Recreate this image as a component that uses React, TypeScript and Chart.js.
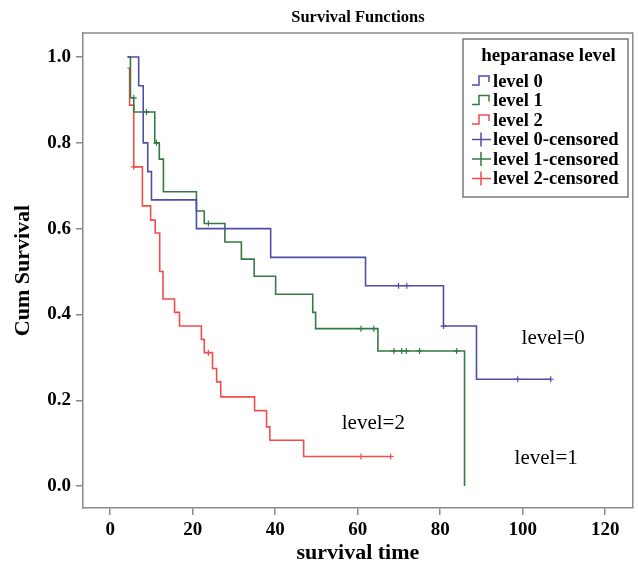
import React, { useEffect, useRef } from "react";
import { Chart, registerables } from "chart.js";

Chart.register(...registerables);

// ---- data ----
const level0Times = [4.2, 6.9, 8.0, 9.1, 10.0, 20.9, 38.9, 61.9, 80.8, 88.8, 106.8];
const level0Surv = [1.0, 0.933, 0.8, 0.733, 0.667, 0.6, 0.533, 0.467, 0.373, 0.249, 0.249];
const level0CensTimes = [69.9, 71.9, 80.8, 98.8, 106.8];
const level0CensSurv = [0.467, 0.467, 0.373, 0.249, 0.249];

const level1Times = [4.2, 4.9, 5.7, 10.8, 11.9, 12.9, 20.9, 22.8, 27.8, 31.8, 34.9, 40.1, 49.1, 49.8, 64.9, 85.9];
const level1Surv = [1.0, 0.905, 0.872, 0.8, 0.762, 0.686, 0.641, 0.612, 0.569, 0.529, 0.489, 0.447, 0.405, 0.367, 0.315, 0.0];
const level1CensTimes = [5.7, 8.8, 11.2, 23.8, 60.8, 63.9, 68.8, 70.7, 71.8, 75.0, 84.0];
const level1CensSurv = [0.905, 0.872, 0.8, 0.612, 0.367, 0.367, 0.315, 0.315, 0.315, 0.315, 0.315];

const level2Times = [4.2, 4.7, 5.7, 7.8, 9.8, 10.9, 12.0, 12.8, 15.6, 16.8, 22.1, 22.8, 24.8, 25.8, 26.8, 35.0, 37.9, 38.7, 46.9, 68.0];
const level2Surv = [0.974, 0.888, 0.744, 0.653, 0.62, 0.59, 0.5, 0.436, 0.405, 0.373, 0.342, 0.311, 0.274, 0.243, 0.208, 0.176, 0.138, 0.107, 0.069, 0.069];
const level2CensTimes = [5.7, 23.8, 60.8, 68.0];
const level2CensSurv = [0.744, 0.311, 0.069, 0.069];

const xTicks = [0, 20, 40, 60, 80, 100, 120];
const yTicks = [0, 0.2, 0.4, 0.6, 0.8, 1.0];

const legendTitle = "heparanase level";
const legendLabels = ["level 0", "level 1", "level 2", "level 0-censored", "level 1-censored", "level 2-censored"];

const annotTexts = ["level=0", "level=2", "level=1"];
const annotX = [107.4, 63.8, 105.7];
const annotY = [0.345, 0.147, 0.065];

const BLUE = "rgb(78,78,168)";
const GREEN = "rgb(52,122,68)";
const RED = "rgb(242,76,76)";
const colors = [BLUE, GREEN, RED];

const SERIF = "'Liberation Serif', 'DejaVu Serif', serif";

function pts(xs: number[], ys: number[]) {
  return xs.map((x, i) => ({ x, y: ys[i] }));
}

const decorPlugin = {
  id: "decor",
  afterDraw(chart: any) {
    const { ctx, chartArea, scales } = chart;
    const { left, right, top, bottom } = chartArea;
    ctx.save();
    // box top and right
    ctx.strokeStyle = "#8a8a8a";
    ctx.lineWidth = 1.5;
    ctx.beginPath();
    ctx.moveTo(left, top);
    ctx.lineTo(right, top);
    ctx.lineTo(right, bottom);
    ctx.stroke();

    // title
    ctx.fillStyle = "#000";
    ctx.font = `bold 16.5px ${SERIF}`;
    ctx.textAlign = "center";
    ctx.textBaseline = "middle";
    ctx.fillText("Survival Functions", (left + right) / 2, 18);

    // x title
    ctx.font = `bold 22px ${SERIF}`;
    ctx.fillText("survival time", (left + right) / 2, 553);

    // y title
    ctx.save();
    ctx.translate(23, (top + bottom) / 2);
    ctx.rotate(-Math.PI / 2);
    ctx.fillText("Cum Survival", 0, 0);
    ctx.restore();

    // annotations
    ctx.font = `21px ${SERIF}`;
    annotTexts.forEach((t, i) => {
      ctx.fillText(t, scales.x.getPixelForValue(annotX[i]), scales.y.getPixelForValue(annotY[i]));
    });

    // legend
    const bx = 463, by = 39, bw = 165, bh = 158;
    ctx.fillStyle = "#fff";
    ctx.fillRect(bx, by, bw, bh);
    ctx.strokeStyle = "#777";
    ctx.lineWidth = 1.5;
    ctx.strokeRect(bx, by, bw, bh);
    ctx.fillStyle = "#000";
    ctx.font = `bold 19px ${SERIF}`;
    ctx.textAlign = "center";
    ctx.fillText(legendTitle, bx + bw / 2 + 3, 56);
    ctx.textAlign = "left";
    ctx.font = `bold 18.5px ${SERIF}`;
    legendLabels.forEach((lab, i) => {
      const y = 81 + i * 19.5;
      const c = colors[i % 3];
      ctx.strokeStyle = c;
      ctx.lineWidth = 1.5;
      ctx.beginPath();
      if (i < 3) {
        ctx.moveTo(472, y + 4);
        ctx.lineTo(479, y + 4);
        ctx.lineTo(479, y - 5);
        ctx.lineTo(489, y - 5);
        ctx.lineTo(489, y + 1);
      } else {
        ctx.moveTo(472, y);
        ctx.lineTo(491, y);
        ctx.moveTo(481, y - 7);
        ctx.lineTo(481, y + 7);
      }
      ctx.stroke();
      ctx.fillStyle = "#000";
      ctx.fillText(lab, 493, y + 1);
    });
    ctx.restore();
  },
};

export default function App() {
  const ref = useRef<HTMLCanvasElement>(null);
  useEffect(() => {
    document.body.style.margin = "0";
    const lineDs = (xs: number[], ys: number[], c: string) => ({
      type: "line" as const,
      data: pts(xs, ys),
      borderColor: c,
      backgroundColor: c,
      borderWidth: 1.6,
      stepped: "before" as const,
      pointRadius: 0,
      fill: false,
    });
    const censDs = (xs: number[], ys: number[], c: string) => ({
      type: "scatter" as const,
      data: pts(xs, ys),
      borderColor: c,
      backgroundColor: c,
      pointStyle: "cross" as const,
      pointRadius: 3,
      borderWidth: 1.2,
      showLine: false,
    });
    const chart = new Chart(ref.current!, {
      type: "line",
      data: {
        datasets: [
          lineDs(level0Times, level0Surv, BLUE),
          lineDs(level1Times, level1Surv, GREEN),
          lineDs(level2Times, level2Surv, RED),
          censDs(level0CensTimes, level0CensSurv, BLUE),
          censDs(level1CensTimes, level1CensSurv, GREEN),
          censDs(level2CensTimes, level2CensSurv, RED),
        ] as any,
      },
      options: {
        animation: false,
        responsive: false,
        layout: { padding: { top: 33, right: 1, left: 0, bottom: 0 } },
        plugins: { legend: { display: false }, tooltip: { enabled: false }, title: { display: false } },
        scales: {
          x: {
            type: "linear",
            min: -6.6,
            max: 126.7,
            afterBuildTicks: (s: any) => {
              s.ticks = xTicks.map((v) => ({ value: v }));
            },
            afterFit: (s: any) => {
              s.height = 58;
            },
            grid: { display: true, drawOnChartArea: false, drawTicks: true, tickLength: 7, color: "#8a8a8a", lineWidth: 1.5 },
            border: { display: true, color: "#8a8a8a", width: 1.5 },
            ticks: { color: "#000", font: { family: SERIF, size: 19, weight: "bold" }, padding: 4, maxRotation: 0 },
          },
          y: {
            type: "linear",
            min: -0.051,
            max: 1.056,
            afterBuildTicks: (s: any) => {
              s.ticks = yTicks.map((v) => ({ value: v }));
            },
            afterFit: (s: any) => {
              s.width = 83;
            },
            grid: { display: true, drawOnChartArea: false, drawTicks: true, tickLength: 7, color: "#8a8a8a", lineWidth: 1.5 },
            border: { display: true, color: "#8a8a8a", width: 1.5 },
            ticks: {
              color: "#000",
              font: { family: SERIF, size: 19, weight: "bold" },
              padding: 5,
              callback: (v: any) => Number(v).toFixed(1),
            },
          },
        },
      },
      plugins: [decorPlugin],
    });
    return () => chart.destroy();
  }, []);
  return <canvas ref={ref} width={638} height={566} style={{ display: "block" }} />;
}
